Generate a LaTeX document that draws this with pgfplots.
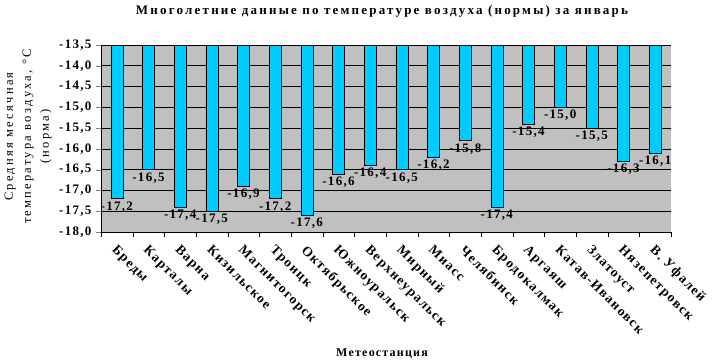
\documentclass[border=0pt]{standalone}
\usepackage{fontspec}
\setmainfont{Liberation Serif}
\newfontfamily\lsf{Liberation Serif}[LetterSpace=10]
\newfontfamily\lsft{Liberation Serif}[LetterSpace=17]
\newfontfamily\lsfy{Liberation Serif}[LetterSpace=18]
\usepackage{pgfplots}
\pgfplotsset{compat=1.18}
\definecolor{barcyan}{HTML}{00CCFF}
\definecolor{plotgray}{HTML}{C0C0C0}
\begin{document}
\begin{tikzpicture}
\useasboundingbox (-101pt,-132pt) rectangle (615pt,232pt);
\begin{axis}[
  at={(0,0)}, anchor=south west,
  scale only axis, width=570pt, height=187pt,
  ybar, bar width=12pt,
  xmin=-0.5, xmax=17.5, ymin=-18, ymax=-13.5,
  xtick={0,...,17},
  xticklabels={Бреды,Карталы,Варна,Кизильское,Магнитогорск,Троицк,Октябрьское,Южноуральск,Верхнеуральск,Мирный,Миасс,Челябинск,Бродокалмак,Аргаяш,Катав-Ивановск,Златоуст,Нязепетровск,{В. Уфалей}},
  minor xtick={-0.5,0.5,...,17.5},
  major x tick style={draw=none},
  minor x tick style={black},
  minor tick length=5pt,
  major tick length=5pt,
  ytick={-18,-17.5,-17,-16.5,-16,-15.5,-15,-14.5,-14,-13.5},
  tick align=outside,
  axis lines*=left,
  axis line style={black,-},
  ymajorgrids,
  grid style={black, line width=0.6pt},
  axis background/.style={fill=plotgray},
  clip mode=individual,
  /pgf/number format/fixed,
  /pgf/number format/fixed zerofill,
  /pgf/number format/precision=1,
  /pgf/number format/use comma,
  /pgf/number format/assume math mode=true,
  yticklabel style={font=\lsf\bfseries\fontsize{13}{15}\selectfont, xshift=-1pt},
  xticklabel style={yshift=-7pt, xshift=1pt, rotate=-45, anchor=north west, inner sep=0pt, font=\lsf\bfseries\fontsize{13.5}{15}\selectfont},
  nodes near coords,
  nodes near coords style={font=\lsf\bfseries\fontsize{13}{15}\selectfont, inner sep=2.5pt},
  title={Многолетние данные по температуре воздуха (нормы) за январь},
  title style={at={(axis description cs:0.493,1.15)}, anchor=center, yshift=0pt, font=\lsft\bfseries\fontsize{13}{15}\selectfont},
  xlabel={Метеостанция},
  xlabel style={at={(axis description cs:0.493,-0.652)}, anchor=center, font=\lsf\bfseries\fontsize{12}{14}\selectfont},
  ylabel={Средняя месячная\\температура воздуха, °С\\(норма)},
  ylabel style={at={(axis description cs:-0.128,0.51)}, anchor=center, align=center, font=\lsfy\fontsize{12.5}{18}\selectfont},
]
\addplot[fill=barcyan, draw=black, line width=0.6pt] coordinates {
(0,-17.2) (1,-16.5) (2,-17.4) (3,-17.5) (4,-16.9) (5,-17.2) (6,-17.6) (7,-16.6) (8,-16.4) (9,-16.5) (10,-16.2) (11,-15.8) (12,-17.4) (13,-15.4) (14,-15.0) (15,-15.5) (16,-16.3) (17,-16.1)
};
\end{axis}
\end{tikzpicture}
\end{document}
